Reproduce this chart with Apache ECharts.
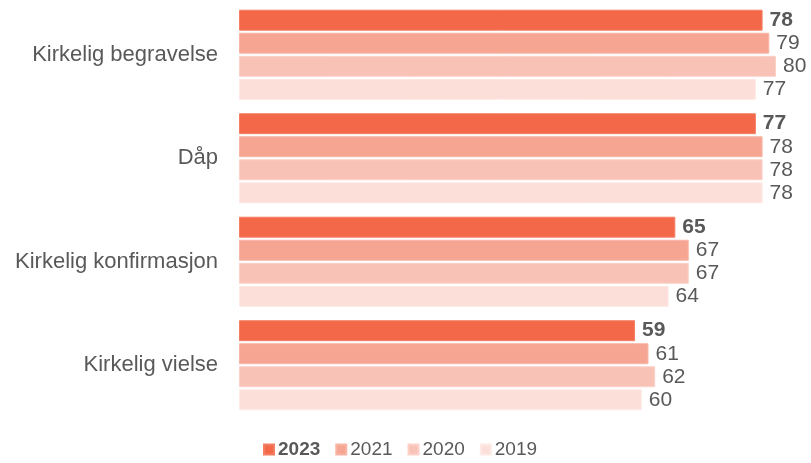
<!DOCTYPE html>
<html>
<head>
<meta charset="utf-8">
<script src="https://cdn.jsdelivr.net/npm/echarts@6/dist/echarts.min.js"></script>
<style>
    html, body { margin: 0; padding: 0; background: #fff; }
    #chart { width: 811px; height: 463px; }
</style>
</head>
<body>
<div id="chart"></div>
<script>
// kategorier (ovenfra og ned)
const categories = ['Kirkelig begravelse', 'Dåp', 'Kirkelig konfirmasjon', 'Kirkelig vielse'];

// verdier per år
const years = ['2023', '2021', '2020', '2019'];
const values2023 = [78, 77, 65, 59];
const values2021 = [79, 78, 67, 61];
const values2020 = [80, 78, 67, 62];
const values2019 = [77, 78, 64, 60];

const colors = ['#F26849', '#F6A593', '#F9C2B6', '#FCDFD9'];
const borders = ['#F47E63', '#F8B5A6', '#FBD1C8', '#FDE9E5'];

const chart = echarts.init(document.getElementById('chart'));

const makeSeries = (name, data, i) => ({
    name,
    type: 'bar',
    data,
    barGap: '10%',
    barCategoryGap: '13%',
    itemStyle: {
        color: colors[i],
        borderColor: borders[i],
        borderWidth: 1
    },
    label: {
        show: true,
        position: 'right',
        distance: 7,
        fontFamily: 'Liberation Sans',
        fontSize: 21,
        fontWeight: i === 0 ? 'bold' : 'normal',
        color: '#595959'
    }
});

chart.setOption({
    animation: false,
    textStyle: { fontFamily: 'Liberation Sans' },
    grid: {
        left: 239,
        top: 3,
        width: 537,
        height: 414
    },
    xAxis: {
        type: 'value',
        min: 0,
        max: 80,
        show: false
    },
    yAxis: {
        type: 'category',
        data: categories,
        inverse: true,
        axisLine: { show: false },
        axisTick: { show: false },
        axisLabel: {
            fontSize: 22,
            color: '#595959',
            margin: 21
        }
    },
    legend: {
        bottom: -1,
        left: 258,
        itemWidth: 10,
        itemHeight: 10,
        itemGap: 15,
        icon: 'rect',
        textStyle: { fontSize: 19, color: '#595959', padding: [0, 0, 0, -1] },
        data: [
            { name: '2023', textStyle: { fontWeight: 'bold' } },
            '2021', '2020', '2019'
        ]
    },
    series: [
        makeSeries(years[0], values2023, 0),
        makeSeries(years[1], values2021, 1),
        makeSeries(years[2], values2020, 2),
        makeSeries(years[3], values2019, 3)
    ]
});
</script>
</body>
</html>
